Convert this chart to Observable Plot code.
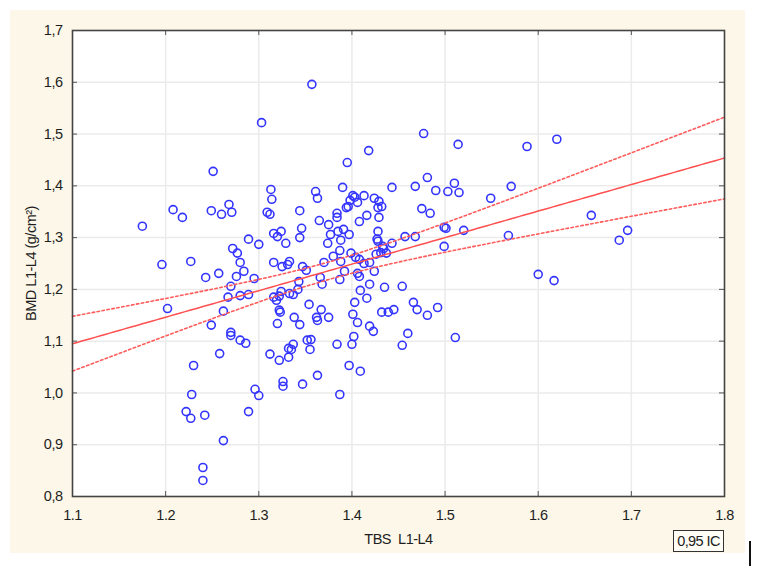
<!DOCTYPE html>
<html>
<head>
<meta charset="utf-8">
<script src="https://cdn.jsdelivr.net/npm/d3@7"></script>
<script src="https://cdn.jsdelivr.net/npm/@observablehq/plot@0.6"></script>
<style>
  html, body { margin: 0; padding: 0; background: #ffffff; }
  #wrap { position: relative; width: 762px; height: 570px; font-family: "Liberation Sans Narrow", "Liberation Sans", Arial, sans-serif; }
  #panel { position: absolute; left: 10px; top: 10px; width: 735px; height: 543px; background: #fcf7e8; }
  #chart { position: absolute; left: 0; top: 0; }
  #legend { position: absolute; left: 673px; top: 530px; width: 49px; height: 20px; border: 1.5px solid #333;
            background: #fffdf5; font-size: 14.5px; letter-spacing: -0.6px; line-height: 20px; text-align: center; color: #222; }
  #cursor { position: absolute; left: 749px; top: 541px; width: 2px; height: 25px; background: #111; }
</style>
</head>
<body>
<div id="wrap">
  <div id="panel"></div>
  <div id="chart"></div>
  <div id="legend">0,95 IC</div>
  <div id="cursor"></div>
</div>
<script>
// TBS L1-L4 (trabecular bone score) per subject
const tbs = [
  1.175, 1.196, 1.202, 1.208, 1.218, 1.227, 1.230, 1.228, 1.222, 1.227,
  1.242, 1.240, 1.240, 1.243, 1.249, 1.249, 1.251, 1.257, 1.258, 1.260,
  1.262, 1.262, 1.267, 1.268, 1.270, 1.270, 1.270, 1.271, 1.272, 1.276,
  1.277, 1.280, 1.280, 1.280, 1.284, 1.286, 1.289, 1.289, 1.289, 1.295,
  1.296, 1.300, 1.300, 1.303, 1.309, 1.312, 1.312, 1.313, 1.314, 1.316,
  1.316, 1.316, 1.319, 1.320, 1.322, 1.320, 1.322, 1.323, 1.322, 1.324,
  1.324, 1.325, 1.326, 1.326, 1.329, 1.331, 1.332, 1.332, 1.333, 1.333,
  1.335, 1.337, 1.337, 1.338, 1.342, 1.343, 1.344, 1.344, 1.344, 1.346,
  1.347, 1.347, 1.351, 1.352, 1.354, 1.355, 1.356, 1.357, 1.361, 1.363,
  1.362, 1.363, 1.363, 1.365, 1.366, 1.367, 1.368, 1.370, 1.374, 1.375,
  1.375, 1.377, 1.380, 1.384, 1.384, 1.384, 1.385, 1.387, 1.387, 1.387,
  1.388, 1.388, 1.390, 1.391, 1.392, 1.394, 1.395, 1.396, 1.397, 1.397,
  1.398, 1.399, 1.400, 1.401, 1.401, 1.402, 1.403, 1.403, 1.404, 1.408,
  1.406, 1.406, 1.408, 1.406, 1.408, 1.409, 1.409, 1.413, 1.413, 1.416,
  1.416, 1.418, 1.419, 1.419, 1.419, 1.423, 1.424, 1.424, 1.426, 1.428,
  1.429, 1.428, 1.427, 1.428, 1.429, 1.432, 1.431, 1.433, 1.434, 1.437,
  1.432, 1.439, 1.435, 1.443, 1.443, 1.445, 1.454, 1.454, 1.457, 1.460,
  1.466, 1.468, 1.468, 1.470, 1.475, 1.477, 1.481, 1.481, 1.484, 1.490,
  1.492, 1.499, 1.501, 1.499, 1.503, 1.510, 1.511, 1.514, 1.515, 1.520,
  1.549, 1.568, 1.571, 1.588, 1.600, 1.617, 1.620, 1.657, 1.687, 1.696
];

// BMD L1-L4 (g/cm²) for the same subjects
const bmd = [
  1.322, 1.248, 1.163, 1.354, 1.339, 1.254, 1.053, 0.997, 0.964, 0.951,
  0.957, 0.856, 0.831, 1.223, 1.352, 1.131, 1.428, 1.231, 1.076, 1.345,
  1.158, 0.908, 1.185, 1.364, 1.206, 1.117, 1.111, 1.349, 1.279, 1.225,
  1.270, 1.252, 1.188, 1.102, 1.235, 1.096, 1.297, 1.190, 0.964, 1.221,
  1.007, 1.287, 0.995, 1.522, 1.349, 1.345, 1.075, 1.393, 1.374, 1.308,
  1.252, 1.185, 1.179, 1.302, 1.187, 1.134, 1.160, 1.156, 1.063, 1.312,
  1.196, 1.244, 1.022, 1.013, 1.289, 1.248, 1.086, 1.069, 1.254, 1.192,
  1.084, 1.190, 1.094, 1.146, 1.200, 1.215, 1.352, 1.300, 1.132, 1.318,
  1.244, 1.017, 1.237, 1.102, 1.171, 1.084, 1.103, 1.596, 1.389, 1.376,
  1.146, 1.140, 1.034, 1.333, 1.223, 1.161, 1.210, 1.252, 1.289, 1.325,
  1.146, 1.306, 1.264, 1.347, 1.339, 1.094, 1.312, 1.275, 1.219, 0.997,
  1.295, 1.254, 1.397, 1.316, 1.235, 1.358, 1.445, 1.360, 1.306, 1.053,
  1.372, 1.270, 1.094, 1.381, 1.152, 1.109, 1.378, 1.175, 1.262, 1.258,
  1.368, 1.231, 1.225, 1.136, 1.331, 1.198, 1.042, 1.381, 1.250, 1.343,
  1.183, 1.468, 1.252, 1.210, 1.129, 1.119, 1.376, 1.235, 1.268, 1.358,
  1.370, 1.312, 1.297, 1.293, 1.339, 1.360, 1.271, 1.283, 1.279, 1.270,
  1.156, 1.156, 1.204, 1.397, 1.289, 1.161, 1.206, 1.092, 1.302, 1.115,
  1.175, 1.399, 1.302, 1.161, 1.356, 1.501, 1.416, 1.150, 1.347, 1.391,
  1.165, 1.320, 1.318, 1.283, 1.389, 1.405, 1.107, 1.480, 1.387, 1.314,
  1.376, 1.304, 1.399, 1.476, 1.229, 1.217, 1.490, 1.343, 1.295, 1.314
];

const xTicks = [1.1, 1.2, 1.3, 1.4, 1.5, 1.6, 1.7, 1.8];
const yTicks = [0.8, 0.9, 1.0, 1.1, 1.2, 1.3, 1.4, 1.5, 1.6, 1.7];

const points = tbs.map((x, i) => ({x, y: bmd[i]}));

// Ordinary least squares fit with a 95% confidence band for the mean
const n = points.length;
const mx = d3.mean(tbs), my = d3.mean(bmd);
const sxx = d3.sum(tbs, x => (x - mx) ** 2);
const sxy = d3.sum(points, p => (p.x - mx) * (p.y - my));
const slope = sxy / sxx;
const intercept = my - slope * mx;
const sse = d3.sum(points, p => (p.y - intercept - slope * p.x) ** 2);
const s = Math.sqrt(sse / (n - 2));
const t = 1.972;
const grid = d3.range(0, 141).map(i => 1.1 + i * 0.005);
const fit = grid.map(x => {
  const yhat = intercept + slope * x;
  const half = t * s * Math.sqrt(1 / n + (x - mx) ** 2 / sxx);
  return {x, y: yhat, lo: yhat - half, hi: yhat + half};
});

const plotW = 762 - 72 - 38, plotH = 570 - 30 - 74;
const font = "Liberation Sans Narrow, Liberation Sans, Arial, sans-serif";

const chart = Plot.plot({
  width: 762,
  height: 570,
  marginLeft: 72,
  marginRight: 38,
  marginTop: 30,
  marginBottom: 74,
  style: {background: "transparent", fontFamily: font, color: "#1e1e1e"},
  x: {domain: [1.1, 1.8]},
  y: {domain: [0.8, 1.7]},
  marks: [
    Plot.frame({fill: "white", stroke: "none"}),
    Plot.ruleX(xTicks.slice(1, -1), {stroke: "#ebebeb", strokeWidth: 1.5}),
    Plot.ruleY(yTicks.slice(1, -1), {stroke: "#ebebeb", strokeWidth: 1.5}),
    Plot.dot(points, {x: "x", y: "y", r: 4, stroke: "#3434ff", strokeWidth: 1.6}),
    Plot.line(fit, {x: "x", y: "hi", stroke: "#ff5c5c", strokeWidth: 1.6, strokeDasharray: "2.5,2.5"}),
    Plot.line(fit, {x: "x", y: "lo", stroke: "#ff5c5c", strokeWidth: 1.6, strokeDasharray: "2.5,2.5"}),
    Plot.line(fit, {x: "x", y: "y", stroke: "#ff4f4f", strokeWidth: 1.5}),
    // short inward ticks on all four sides of the frame
    Plot.tickX(xTicks, {x: d => d, insetTop: plotH - 5, stroke: "#555"}),
    Plot.tickX(xTicks, {x: d => d, insetBottom: plotH - 5, stroke: "#555"}),
    Plot.tickY(yTicks, {y: d => d, insetRight: plotW - 5, stroke: "#555"}),
    Plot.tickY(yTicks, {y: d => d, insetLeft: plotW - 5, stroke: "#555"}),
    Plot.frame({stroke: "#444", strokeWidth: 1.6}),
    Plot.axisX({
      ticks: xTicks, tickSize: 0, tickPadding: 13, fontSize: 14.5,
      tickFormat: d => d.toFixed(1),
      label: "TBS\u00a0 L1-L4", labelAnchor: "center", labelArrow: "none", labelOffset: 47
    }),
    Plot.axisY({
      ticks: yTicks, tickSize: 0, tickPadding: 10, fontSize: 14.5,
      tickFormat: d => d.toFixed(1).replace(".", ","),
      label: "BMD L1-L4 (g/cm²)", labelAnchor: "center", labelArrow: "none", labelOffset: 47
    })
  ]
});

// narrow the letter spacing of every label to mimic a condensed face
chart.querySelectorAll("text").forEach(el => el.setAttribute("letter-spacing", "-0.5"));
document.getElementById("chart").appendChild(chart);
</script>
</body>
</html>
